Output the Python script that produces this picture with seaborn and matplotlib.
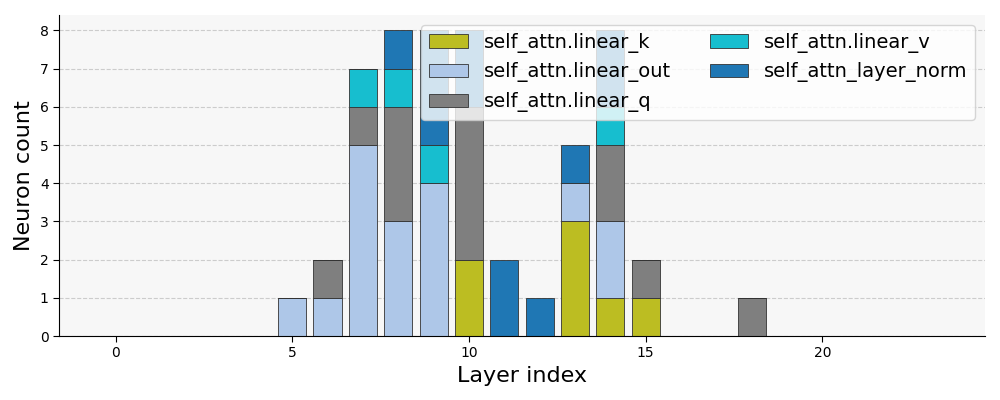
import pandas as pd
import matplotlib
matplotlib.use('Agg')
import matplotlib.pyplot as plt
from matplotlib.patches import Patch
import seaborn as sns

# layers that have at least one neuron
layers = [5, 6, 7, 8, 9, 10, 11, 12, 13, 14, 15, 18]

# neuron counts per module, one value per layer above
linear_k = [0, 0, 0, 0, 0, 2, 0, 0, 3, 1, 1, 0]
linear_out = [1, 1, 5, 3, 4, 0, 0, 0, 1, 2, 0, 0]
linear_q = [0, 1, 1, 3, 0, 4, 0, 0, 0, 2, 1, 1]
linear_v = [0, 0, 1, 1, 1, 0, 0, 0, 0, 1, 0, 0]
layer_norm = [0, 0, 0, 1, 3, 2, 2, 1, 1, 2, 0, 0]

modules = ['self_attn.linear_k', 'self_attn.linear_out', 'self_attn.linear_q',
           'self_attn.linear_v', 'self_attn_layer_norm']
counts = [linear_k, linear_out, linear_q, linear_v, layer_norm]
colors = ['#bcbd22', '#aec7e8', '#7f7f7f', '#17becf', '#1f77b4']

rows = []
for m, c in zip(modules, counts):
    for l, n in zip(layers, c):
        if n > 0:
            rows.append({'layer': l, 'module': m, 'count': n})
df = pd.DataFrame(rows)

sns.set_style('white', {'text.color': 'black', 'axes.labelcolor': 'black',
                        'xtick.color': 'black', 'ytick.color': 'black',
                        'axes.edgecolor': 'black'})
fig, ax = plt.subplots(figsize=(10, 4), dpi=100)
ax.set_facecolor('#f7f7f7')

# seaborn stacks the first hue level on top, so reverse the order
sns.histplot(data=df, x='layer', hue='module', weights='count',
             hue_order=modules[::-1], palette=dict(zip(modules, colors)),
             multiple='stack', discrete=True, shrink=0.8, alpha=1,
             edgecolor='#333333', linewidth=0.6, legend=False, ax=ax)

ax.yaxis.grid(True, linestyle='--', color='#cccccc', linewidth=0.8)
ax.set_axisbelow(True)
ax.set_xlim(-1.6, 24.6)
ax.set_ylim(0, 8.4)
ax.set_xticks([0, 5, 10, 15, 20])
ax.set_yticks(range(9))
ax.tick_params(axis='both', labelsize=10, length=4, left=True, bottom=True)
ax.set_xlabel('Layer index', fontsize=16)
ax.set_ylabel('Neuron count', fontsize=16)
sns.despine(ax=ax)

handles = [Patch(facecolor=c, edgecolor='#333333', linewidth=0.6) for c in colors]
ax.legend(handles, modules, ncol=2, loc='upper right', fontsize=14,
          framealpha=0.8, borderaxespad=0.5)

plt.subplots_adjust(left=0.059, right=0.985, top=0.962, bottom=0.16)
plt.savefig('out.png')
